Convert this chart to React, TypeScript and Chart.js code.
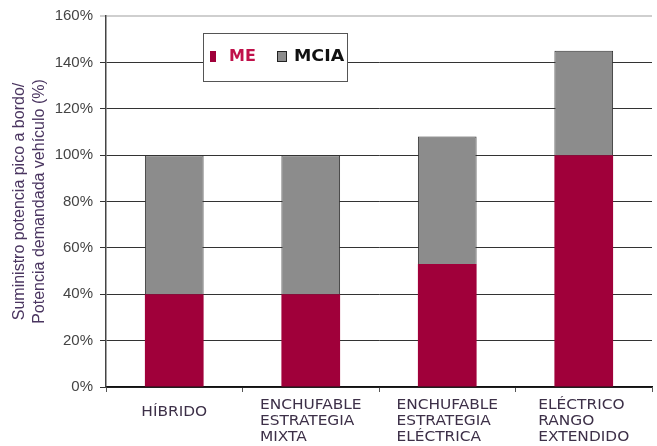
import React, { useEffect, useRef } from "react";
import { Chart, registerables } from "chart.js";

Chart.register(...registerables);

const categories: string[][] = [
  ["HÍBRIDO"],
  ["ENCHUFABLE", "ESTRATEGIA", "MIXTA"],
  ["ENCHUFABLE", "ESTRATEGIA", "ELÉCTRICA"],
  ["ELÉCTRICO", "RANGO", "EXTENDIDO"],
];
const meValues = [40, 40, 53, 100];
const mciaValues = [60, 60, 55, 45];
const seriesNames = ["ME", "MCIA"];
const yTitle = ["Suministro potencia pico a bordo/", "Potencia demandada vehículo (%)"];

const RED = "#A0003A";
const GRAY = "#8C8C8C";

const legendPlugin = {
  id: "boxLegend",
  afterDraw(chart: any) {
    const ctx = chart.ctx;
    ctx.save();
    const x = 203, y = 33, w = 144, h = 48;
    ctx.fillStyle = "#fff";
    ctx.fillRect(x, y, w, h);
    ctx.strokeStyle = "#555";
    ctx.lineWidth = 1;
    ctx.strokeRect(x + 0.5, y + 0.5, w, h);
    ctx.fillStyle = RED;
    ctx.fillRect(210, 51, 6, 11);
    ctx.fillStyle = GRAY;
    ctx.fillRect(277, 51, 10, 11);
    ctx.strokeStyle = "#222";
    ctx.strokeRect(277.5, 51.5, 9, 10);
    ctx.font = "bold 16px 'DejaVu Sans', Verdana, sans-serif";
    ctx.textBaseline = "middle";
    ctx.fillStyle = "#C0104A";
    ctx.fillText(seriesNames[0], 229, 57);
    ctx.save();
    ctx.translate(294, 57);
    ctx.scale(1.09, 1);
    ctx.fillStyle = "#111";
    ctx.fillText(seriesNames[1], 0, 0);
    ctx.restore();
    ctx.restore();
  },
};

const xLabelPlugin = {
  id: "xLabels",
  afterDraw(chart: any) {
    const ctx = chart.ctx;
    const xs = chart.scales.x;
    const bottom = chart.chartArea.bottom;
    ctx.save();
    ctx.font = "14px 'DejaVu Sans', Verdana, sans-serif";
    ctx.fillStyle = "#3d3048";
    ctx.textBaseline = "middle";
    ctx.textAlign = "left";
    const sx = 1.1;
    categories.forEach((lines, i) => {
      const cx = xs.getPixelForValue(i);
      const widest = Math.max(...lines.map((l) => ctx.measureText(l).width)) * sx;
      const left = cx - widest / 2;
      const y0 = lines.length === 1 ? bottom + 25 : bottom + 18;
      lines.forEach((l, j) => {
        ctx.save();
        ctx.translate(left, y0 + j * 16);
        ctx.scale(sx, 1);
        ctx.fillText(l, 0, 0);
        ctx.restore();
      });
    });
    ctx.restore();
  },
};

export default function App() {
  const ref = useRef<HTMLCanvasElement>(null);
  useEffect(() => {
    document.body.style.margin = "0";
    const chart = new Chart(ref.current!, {
      type: "bar",
      data: {
        labels: categories,
        datasets: [
          {
            label: seriesNames[0],
            data: meValues,
            backgroundColor: RED,
            borderWidth: 0,
            barPercentage: 0.43,
            categoryPercentage: 1,
          },
          {
            label: seriesNames[1],
            data: mciaValues,
            backgroundColor: GRAY,
            borderColor: "#333",
            borderWidth: 1,
            barPercentage: 0.43,
            categoryPercentage: 1,
          },
        ],
      },
      options: {
        animation: false,
        responsive: false,
        maintainAspectRatio: false,
        layout: { padding: { top: 15, right: 5, left: 0, bottom: 0 } },
        plugins: { legend: { display: false }, tooltip: { enabled: false } },
        scales: {
          x: {
            stacked: true,
            grid: {
              display: true,
              drawOnChartArea: false,
              drawTicks: true,
              tickLength: 5,
              color: "#555",
              offset: true,
            },
            border: { display: true, color: "#111", width: 1.5 },
            ticks: {
              color: "rgba(0,0,0,0)",
              font: { family: "'DejaVu Sans', Verdana, sans-serif", size: 13.5 },
              maxRotation: 0,
              autoSkip: false,
            },
            afterFit(scale: any) {
              scale.height = 59;
            },
          },
          y: {
            stacked: true,
            min: 0,
            max: 160,
            ticks: {
              stepSize: 20,
              color: "#444",
              font: { family: "'Liberation Sans', Arial, sans-serif", size: 15 },
              padding: 7,
              callback: (v: any) => v + "%",
            },
            grid: {
              color: (c: any) => (c.tick && c.tick.value === 160 ? "#cfcfcf" : "#333"),
              lineWidth: (c: any) => (c.tick && c.tick.value === 160 ? 2 : 1),
              tickLength: 6,
              drawTicks: true,
            },
            border: { display: true, color: "#444", width: 1.5 },
            title: {
              display: true,
              text: yTitle,
              color: "#4a3560",
              font: { family: "'Liberation Sans', Arial, sans-serif", size: 16, lineHeight: 1.25 },
              padding: { top: 10, bottom: 0 },
            },
            afterFit(scale: any) {
              scale.width = 106;
            },
          },
        },
      },
      plugins: [legendPlugin, xLabelPlugin],
    });
    return () => chart.destroy();
  }, []);
  return (
    <div style={{ width: 657, height: 446 }}>
      <canvas ref={ref} width={657} height={446} style={{ display: "block" }} />
    </div>
  );
}
